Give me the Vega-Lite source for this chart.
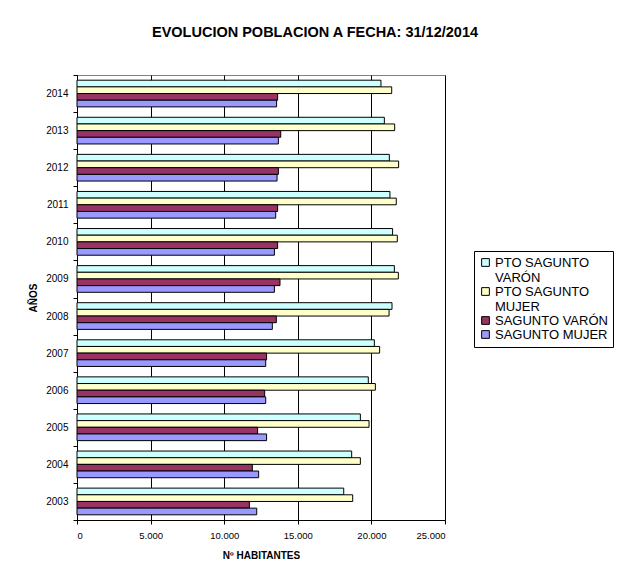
{
  "$schema": "https://vega.github.io/schema/vega-lite/v6.json",
  "width": 368,
  "height": 445,
  "autosize": {"type": "none"},
  "padding": {"left": 77, "top": 75, "right": 175, "bottom": 55},
  "background": "white",
  "title": {"text": "EVOLUCION POBLACION A FECHA: 31/12/2014", "font": "Liberation Sans", "fontSize": 14.5, "fontWeight": "bold", "anchor": "middle", "dx": 54, "offset": 30, "color": "black"},
  "data": {"values": [
    {"year": "2014", "serie": "PTO SAGUNTO VARÓN", "value": 20650},
    {"year": "2014", "serie": "PTO SAGUNTO MUJER", "value": 21380},
    {"year": "2014", "serie": "SAGUNTO VARÓN", "value": 13630},
    {"year": "2014", "serie": "SAGUNTO MUJER", "value": 13560},
    {"year": "2013", "serie": "PTO SAGUNTO VARÓN", "value": 20880},
    {"year": "2013", "serie": "PTO SAGUNTO MUJER", "value": 21580},
    {"year": "2013", "serie": "SAGUNTO VARÓN", "value": 13840},
    {"year": "2013", "serie": "SAGUNTO MUJER", "value": 13680},
    {"year": "2012", "serie": "PTO SAGUNTO VARÓN", "value": 21220},
    {"year": "2012", "serie": "PTO SAGUNTO MUJER", "value": 21850},
    {"year": "2012", "serie": "SAGUNTO VARÓN", "value": 13680},
    {"year": "2012", "serie": "SAGUNTO MUJER", "value": 13590},
    {"year": "2011", "serie": "PTO SAGUNTO VARÓN", "value": 21260},
    {"year": "2011", "serie": "PTO SAGUNTO MUJER", "value": 21690},
    {"year": "2011", "serie": "SAGUNTO VARÓN", "value": 13630},
    {"year": "2011", "serie": "SAGUNTO MUJER", "value": 13500},
    {"year": "2010", "serie": "PTO SAGUNTO VARÓN", "value": 21440},
    {"year": "2010", "serie": "PTO SAGUNTO MUJER", "value": 21760},
    {"year": "2010", "serie": "SAGUNTO VARÓN", "value": 13630},
    {"year": "2010", "serie": "SAGUNTO MUJER", "value": 13410},
    {"year": "2009", "serie": "PTO SAGUNTO VARÓN", "value": 21560},
    {"year": "2009", "serie": "PTO SAGUNTO MUJER", "value": 21830},
    {"year": "2009", "serie": "SAGUNTO VARÓN", "value": 13790},
    {"year": "2009", "serie": "SAGUNTO MUJER", "value": 13410},
    {"year": "2008", "serie": "PTO SAGUNTO VARÓN", "value": 21400},
    {"year": "2008", "serie": "PTO SAGUNTO MUJER", "value": 21200},
    {"year": "2008", "serie": "SAGUNTO VARÓN", "value": 13540},
    {"year": "2008", "serie": "SAGUNTO MUJER", "value": 13270},
    {"year": "2007", "serie": "PTO SAGUNTO VARÓN", "value": 20200},
    {"year": "2007", "serie": "PTO SAGUNTO MUJER", "value": 20560},
    {"year": "2007", "serie": "SAGUNTO VARÓN", "value": 12880},
    {"year": "2007", "serie": "SAGUNTO MUJER", "value": 12820},
    {"year": "2006", "serie": "PTO SAGUNTO VARÓN", "value": 19790},
    {"year": "2006", "serie": "PTO SAGUNTO MUJER", "value": 20270},
    {"year": "2006", "serie": "SAGUNTO VARÓN", "value": 12750},
    {"year": "2006", "serie": "SAGUNTO MUJER", "value": 12820},
    {"year": "2005", "serie": "PTO SAGUNTO VARÓN", "value": 19250},
    {"year": "2005", "serie": "PTO SAGUNTO MUJER", "value": 19840},
    {"year": "2005", "serie": "SAGUNTO VARÓN", "value": 12270},
    {"year": "2005", "serie": "SAGUNTO MUJER", "value": 12880},
    {"year": "2004", "serie": "PTO SAGUNTO VARÓN", "value": 18660},
    {"year": "2004", "serie": "PTO SAGUNTO MUJER", "value": 19250},
    {"year": "2004", "serie": "SAGUNTO VARÓN", "value": 11910},
    {"year": "2004", "serie": "SAGUNTO MUJER", "value": 12340},
    {"year": "2003", "serie": "PTO SAGUNTO VARÓN", "value": 18120},
    {"year": "2003", "serie": "PTO SAGUNTO MUJER", "value": 18730},
    {"year": "2003", "serie": "SAGUNTO VARÓN", "value": 11710},
    {"year": "2003", "serie": "SAGUNTO MUJER", "value": 12210}
  ]},
  "mark": {"type": "bar", "stroke": "black", "strokeWidth": 1},
  "encoding": {
    "y": {
      "field": "year", "type": "nominal", "sort": "descending",
      "scale": {"paddingInner": 0, "paddingOuter": 0},
      "axis": {"title": "AÑOS", "tickBand": "extent", "grid": false, "tickSize": 4, "labelPadding": 5, "titlePadding": 7, "labelFontSize": 10}
    },
    "yOffset": {
      "field": "serie", "type": "nominal",
      "sort": ["PTO SAGUNTO VARÓN", "PTO SAGUNTO MUJER", "SAGUNTO VARÓN", "SAGUNTO MUJER"],
      "scale": {"paddingInner": 0, "paddingOuter": 0.78}
    },
    "x": {
      "field": "value", "type": "quantitative",
      "scale": {"domain": [0, 25000], "nice": false},
      "axis": {"values": [0, 5000, 10000, 15000, 20000, 25000], "title": "Nº HABITANTES", "grid": true, "tickSize": 4, "labelPadding": 6, "titlePadding": 11, "labelFontSize": 9.5, "labelExpr": "replace(format(datum.value, ','), ',', '.')"}
    },
    "color": {
      "field": "serie", "type": "nominal",
      "scale": {"domain": ["PTO SAGUNTO VARÓN", "PTO SAGUNTO MUJER", "SAGUNTO VARÓN", "SAGUNTO MUJER"], "range": ["#CCFFFF", "#FFFFCC", "#993366", "#9999FF"]},
      "legend": {
        "title": null, "orient": "none", "legendX": 397, "legendY": 176,
        "strokeColor": "black", "fillColor": "white", "padding": 5,
        "symbolType": "square", "symbolSize": 60, "symbolStrokeColor": "black", "symbolStrokeWidth": 1, "symbolOpacity": 1,
        "labelFont": "Liberation Sans", "labelFontSize": 13, "labelColor": "black", "labelLimit": 200, "labelOffset": 3,
        "rowPadding": 0,
        "labelExpr": "datum.label == 'PTO SAGUNTO VARÓN' ? ['PTO SAGUNTO', 'VARÓN'] : datum.label == 'PTO SAGUNTO MUJER' ? ['PTO SAGUNTO', 'MUJER'] : datum.label"
      }
    }
  },
  "config": {
    "view": {"stroke": "#808080", "strokeWidth": 1},
    "axis": {
      "labelFont": "Liberation Sans", "labelColor": "black",
      "titleFont": "Liberation Sans", "titleFontSize": 10, "titleFontWeight": "bold", "titleColor": "black",
      "domainColor": "black", "tickColor": "black", "gridColor": "black", "gridOpacity": 1, "gridWidth": 1
    }
  }
}
